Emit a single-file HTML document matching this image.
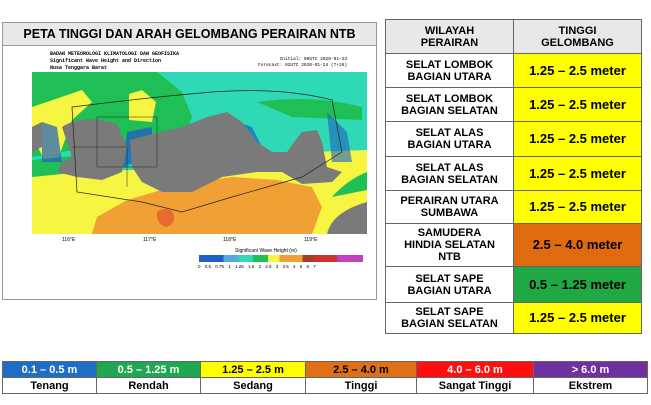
<!DOCTYPE html>
<html><head><meta charset="utf-8"><style>
body{margin:0;width:651px;height:405px;background:#fff;font-family:"Liberation Sans",sans-serif;position:relative;overflow:hidden}
.a{position:absolute}
table{border-collapse:collapse;position:absolute;left:385px;top:19px;width:257px;font-weight:bold}
td{border:1px solid #666;text-align:center;padding:0;line-height:12px}
td.l{font-size:11px;width:126px;background:#fff}
td.v{font-size:13px}
.y{background:#ffff00}.o{background:#e06a10}.g{background:#1fa843}
.leg td{font-size:11px;height:15px;line-height:14px}
</style></head><body>
<div class="a" style="left:2px;top:22px;width:375px;height:278px;border:1px solid #999;box-sizing:border-box"></div>
<div class="a" style="left:2px;top:22px;width:375px;height:24px;background:#e8e8e8;border:1px solid #999;box-sizing:border-box;font-weight:bold;font-size:12.5px;text-align:center;line-height:22px">PETA TINGGI DAN ARAH GELOMBANG PERAIRAN NTB</div>
<div class="a" style="left:50px;top:51px;font:bold 5px 'Liberation Mono',monospace;line-height:7px">BADAN METEOROLOGI KLIMATOLOGI DAN GEOFISIKA<br>Significant Wave Height and Direction<br>Nusa Tenggara Barat</div>
<div class="a" style="left:258px;top:57px;font:4.5px 'Liberation Mono',monospace;line-height:6px;text-align:right">Initial: 00UTC 2020-01-23<br>Forecast: 02UTC 2020-01-24 (T+26)</div>
<svg class="a" style="left:32px;top:72px" width="335" height="162">
<rect width="335" height="162" fill="#2fd9b5"/>
<path d="M0 0H125L150 20 160 45 150 70 100 80 60 75 0 85Z" fill="#1fbf55"/>
<path d="M225 30Q280 22 330 35L330 48 260 45Z" fill="#1fbf55"/>
<path d="M0 35L50 18 60 30 40 48 25 90 15 92 0 65Z" fill="#f5f542"/>
<path d="M97 22L110 18 124 30 120 50 97 48Z" fill="#f5f542"/>
<path d="M0 100L100 98 200 88 280 80 335 78V162H0Z" fill="#f5f542"/>
<path d="M0 88L60 82 100 95 0 105Z" fill="#1fbf55"/>
<path d="M300 125Q315 108 335 100V118Z" fill="#1fbf55"/>
<path d="M60 162L65 145 95 128 150 112 200 105 245 108 280 115 290 135 280 162Z" fill="#f0a035"/>
<path d="M125 140q8-6 16 0 4 12-7 15-10-3-9-15z" fill="#e86a30"/>
<path d="M10 50 25 55 30 90 10 90Z" fill="#2060c0" opacity=".7"/>
<path d="M95 60 120 55 120 75 105 90 90 95Z" fill="#2060c0" opacity=".8"/>
<path d="M190 45 220 55 230 75 200 85 180 70Z" fill="#2060c0" opacity=".7"/>
<path d="M295 40 315 60 320 90 300 90Z" fill="#2060c0" opacity=".6"/>
<path d="M30 55Q45 45 70 48L85 52 95 75 90 100 70 108 45 105 25 100 30 90 40 85Z" fill="#7a7a7a"/>
<path d="M98 68L120 62 150 55 175 45 195 40 210 50 225 70 240 80 255 80 262 70 270 60 285 58 290 70 295 95 310 100 300 110 270 112 250 100 225 100 190 105 160 120 130 120 110 110 100 95Z" fill="#7a7a7a"/>
<path d="M0 55L10 50 10 75 0 80Z" fill="#7a7a7a"/>
<path d="M295 162Q300 140 335 130V162Z" fill="#7a7a7a"/>
<path d="M40 35Q120 25 180 20Q250 15 300 28L310 80 270 105 200 125 150 140 110 130 45 120Z" fill="none" stroke="#222" stroke-width=".7"/>
<path d="M65 45H125V95H65ZM40 75H95V115" fill="none" stroke="#222" stroke-width=".5"/>
</svg>
<div class="a" style="left:62px;top:237px;font-size:5px">116°E</div>
<div class="a" style="left:143px;top:237px;font-size:5px">117°E</div>
<div class="a" style="left:223px;top:237px;font-size:5px">118°E</div>
<div class="a" style="left:304px;top:237px;font-size:5px">119°E</div>
<div class="a" style="left:235px;top:248px;font-size:5px">Significant Wave Height (m)</div>
<div class="a" style="left:199px;top:255px;width:164px;height:7px;background:linear-gradient(90deg,#1e5fc8 0 15%,#55a8e0 15% 24%,#2fd9b5 24% 33%,#1fbf55 33% 42%,#f5f542 42% 49%,#f0a035 49% 63%,#a04020 63% 70%,#d03030 70% 84%,#c040c0 84%)"></div>
<div class="a" style="left:198px;top:264px;font-size:4.5px;word-spacing:3px">0 0.5 0.75 1 1.25 1.5 2 2.5 3 3.5 4 5 6 7</div>
<table>
<tr style="height:34px;background:#e8e8e8"><td class="l" style="background:#e8e8e8">WILAYAH<br>PERAIRAN</td><td class="l" style="background:#e8e8e8">TINGGI<br>GELOMBANG</td></tr>
<tr style="height:34px"><td class="l">SELAT LOMBOK<br>BAGIAN UTARA</td><td class="v y">1.25 – 2.5 meter</td></tr>
<tr style="height:34px"><td class="l">SELAT LOMBOK<br>BAGIAN SELATAN</td><td class="v y">1.25 – 2.5 meter</td></tr>
<tr style="height:35px"><td class="l">SELAT ALAS<br>BAGIAN UTARA</td><td class="v y">1.25 – 2.5 meter</td></tr>
<tr style="height:34px"><td class="l">SELAT ALAS<br>BAGIAN SELATAN</td><td class="v y">1.25 – 2.5 meter</td></tr>
<tr style="height:33px"><td class="l">PERAIRAN UTARA<br>SUMBAWA</td><td class="v y">1.25 – 2.5 meter</td></tr>
<tr style="height:43px"><td class="l">SAMUDERA<br>HINDIA SELATAN<br>NTB</td><td class="v o">2.5 – 4.0 meter</td></tr>
<tr style="height:36px"><td class="l">SELAT SAPE<br>BAGIAN UTARA</td><td class="v g">0.5 – 1.25 meter</td></tr>
<tr style="height:31px"><td class="l">SELAT SAPE<br>BAGIAN SELATAN</td><td class="v y">1.25 – 2.5 meter</td></tr>
</table>
<table class="leg" style="left:2px;top:361px;width:646px">
<tr><td style="background:#1e6ec8;color:#fff;width:93px">0.1 – 0.5 m</td><td style="background:#1fa850;color:#fff;width:103px">0.5 – 1.25 m</td><td style="background:#ffff00;width:104px">1.25 – 2.5 m</td><td style="background:#e07018;width:110px">2.5 – 4.0 m</td><td style="background:#ff1010;color:#fff;width:116px">4.0 – 6.0 m</td><td style="background:#7030a0;color:#fff">&gt; 6.0 m</td></tr>
<tr><td>Tenang</td><td>Rendah</td><td>Sedang</td><td>Tinggi</td><td>Sangat Tinggi</td><td>Ekstrem</td></tr>
</table>
</body></html>
